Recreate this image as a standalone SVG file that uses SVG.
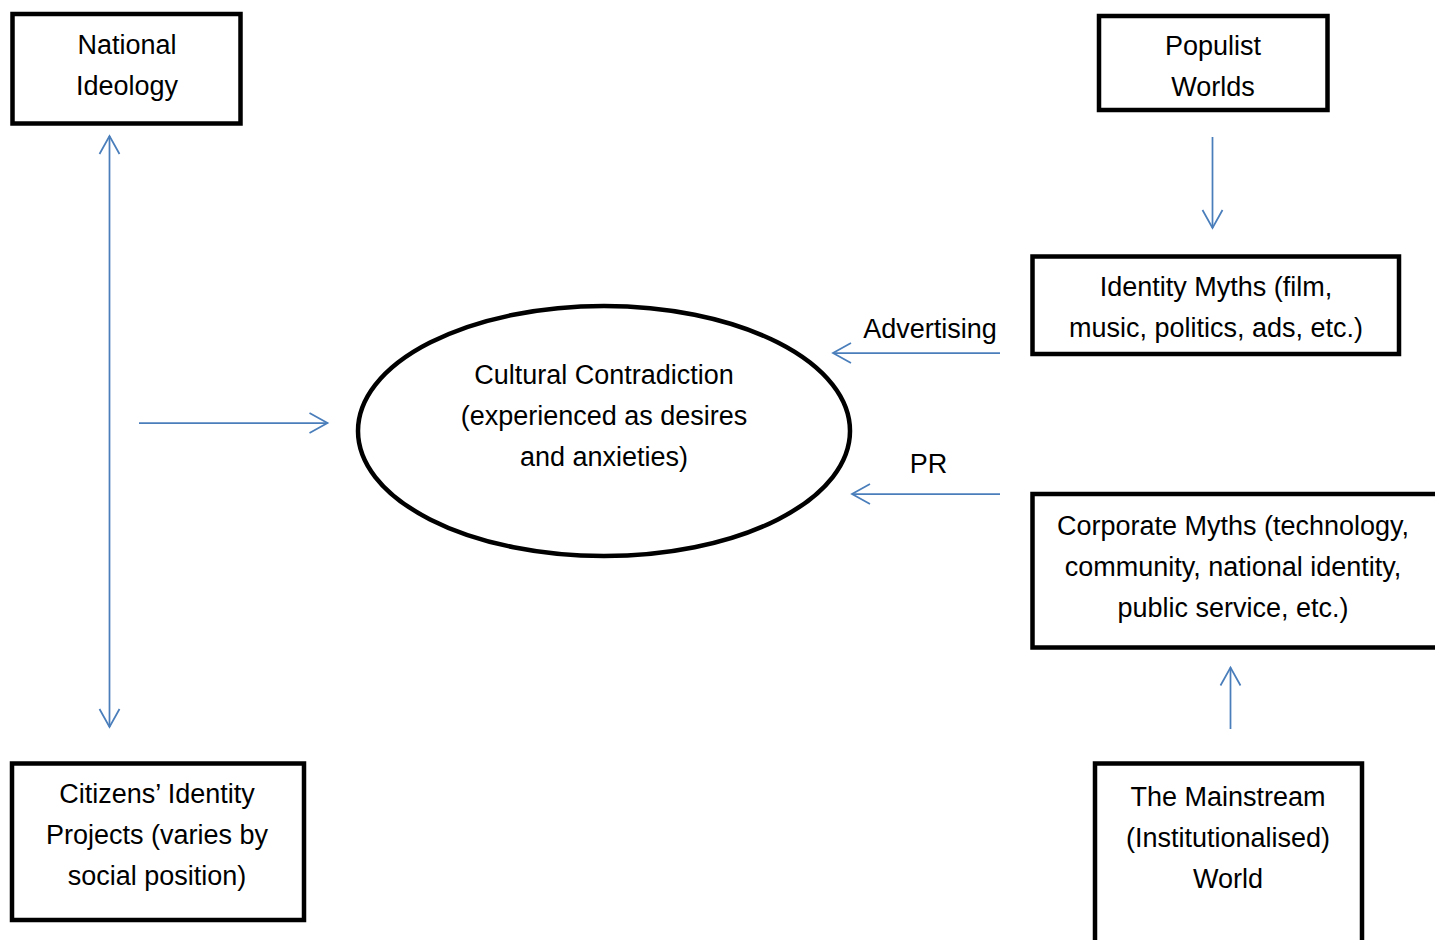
<svg xmlns="http://www.w3.org/2000/svg" width="1435" height="940" viewBox="0 0 1435 940">
  <style>
    .box { fill: #ffffff; stroke: #000000; stroke-width: 4.5; }
    .lbl { font-family: "Liberation Sans", Arial, sans-serif; font-size: 27px; fill: #000000; text-anchor: middle; }
    .conn { stroke: #4a7ebb; stroke-width: 1.75; fill: none; }
  </style>
  <defs>
    <marker id="arr" markerUnits="userSpaceOnUse" markerWidth="40" markerHeight="40" viewBox="-20 -20 40 40" refX="0" refY="0" orient="auto-start-reverse" overflow="visible">
      <path d="M -18 -10 L 0 0 L -18 10" fill="none" stroke="#4a7ebb" stroke-width="1.75"/>
    </marker>
  </defs>
  <rect width="1435" height="940" fill="#ffffff"/>

  <g id="connectors">
    <line class="conn" x1="109.5" y1="136" x2="109.5" y2="727" marker-start="url(#arr)" marker-end="url(#arr)"/>
    <line class="conn" x1="139" y1="423" x2="327.5" y2="423" marker-end="url(#arr)"/>
    <line class="conn" x1="1212.5" y1="137" x2="1212.5" y2="228" marker-end="url(#arr)"/>
    <line class="conn" x1="1000" y1="353" x2="833" y2="353" marker-end="url(#arr)"/>
    <line class="conn" x1="1000" y1="494" x2="852" y2="494" marker-end="url(#arr)"/>
    <line class="conn" x1="1230.5" y1="729" x2="1230.5" y2="667.5" marker-end="url(#arr)"/>
    <text class="lbl" x="930" y="338">Advertising</text>
    <text class="lbl" x="928.5" y="473">PR</text>
  </g>

  <g id="national-ideology">
    <rect class="box" x="12.5" y="14" width="228" height="109.5"/>
    <text class="lbl" x="127" y="54">National</text>
    <text class="lbl" x="127" y="95">Ideology</text>
  </g>

  <g id="populist-worlds">
    <rect class="box" x="1099" y="16" width="228.5" height="94"/>
    <text class="lbl" x="1213" y="55">Populist</text>
    <text class="lbl" x="1213" y="96">Worlds</text>
  </g>

  <g id="identity-myths">
    <rect class="box" x="1032.5" y="256.5" width="366.5" height="97.5"/>
    <text class="lbl" x="1216" y="296">Identity Myths (film,</text>
    <text class="lbl" x="1216" y="337">music, politics, ads, etc.)</text>
  </g>

  <g id="cultural-contradiction">
    <ellipse cx="604" cy="431" rx="246" ry="125" fill="#ffffff" stroke="#000000" stroke-width="4.5"/>
    <text class="lbl" x="604" y="384">Cultural Contradiction</text>
    <text class="lbl" x="604" y="425">(experienced as desires</text>
    <text class="lbl" x="604" y="466">and anxieties)</text>
  </g>

  <g id="corporate-myths">
    <rect class="box" x="1032.5" y="494" width="420" height="153.5"/>
    <text class="lbl" x="1233" y="535">Corporate Myths (technology,</text>
    <text class="lbl" x="1233" y="576">community, national identity,</text>
    <text class="lbl" x="1233" y="617">public service, etc.)</text>
  </g>

  <g id="citizens-identity-projects">
    <rect class="box" x="12" y="763.5" width="292" height="156.5"/>
    <text class="lbl" x="157" y="803">Citizens’ Identity</text>
    <text class="lbl" x="157" y="844">Projects (varies by</text>
    <text class="lbl" x="157" y="885">social position)</text>
  </g>

  <g id="mainstream-world">
    <rect class="box" x="1095" y="763.5" width="267" height="200"/>
    <text class="lbl" x="1228" y="806">The Mainstream</text>
    <text class="lbl" x="1228" y="847">(Institutionalised)</text>
    <text class="lbl" x="1228" y="888">World</text>
  </g>
</svg>
